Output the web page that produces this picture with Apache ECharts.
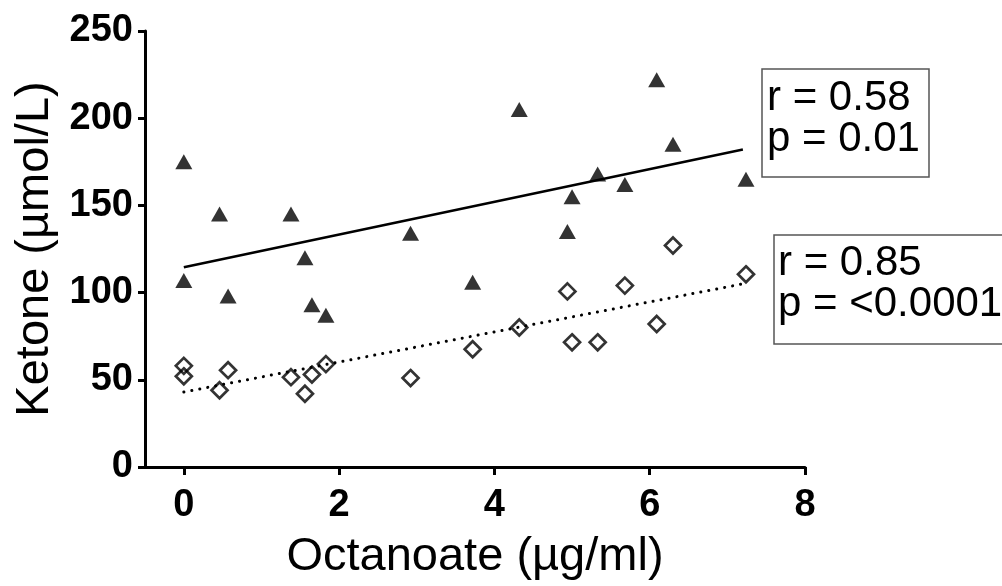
<!DOCTYPE html>
<html>
<head>
<meta charset="utf-8">
<script src="https://cdn.jsdelivr.net/npm/echarts@6/dist/echarts.min.js"></script>
<style>
  html, body { margin: 0; padding: 0; background: #fff; }
  #chart { width: 1002px; height: 586px; }
</style>
</head>
<body>
<div id="chart"></div>
<script>
// octanoate (µg/ml) per sample, same x for both groups
const octanoate = [0, 0, 0.46, 0.57, 1.38, 1.56, 1.65, 1.83, 2.92, 3.72, 4.32, 4.94, 5.0, 5.33, 5.68, 6.09, 6.30, 7.24];
// filled triangles
const ketoneA = [175, 107, 145, 98, 145, 120, 93, 87, 134, 106, 205, 135, 155, 168, 162, 222, 185, 165];
// open diamonds
const ketoneB = [58, 52, 44, 55.5, 51.5, 42, 53, 59, 51, 67.5, 80, 100.7, 71.5, 71.5, 104, 82, 127, 110.5];
// fitted lines, end points
const fitA = [[0, 114.5], [7.2, 182]];
const fitB = [[0, 43], [7.2, 105]];
const xTicks = [0, 2, 4, 6, 8];
const statsA = 'r = 0.58\np = 0.01';
const statsB = 'r = 0.85\np = <0.0001';

const FONT = '"Liberation Sans", Arial, sans-serif';
const pairs = (xs, ys) => xs.map((x, i) => [x, ys[i]]);

const chart = echarts.init(document.getElementById('chart'));
chart.setOption({
  animation: false,
  grid: { left: 145, right: 197, top: 31, bottom: 118 },
  xAxis: {
    type: 'value', min: -0.5, max: 8,
    name: 'Octanoate (µg/ml)', nameLocation: 'middle', nameGap: 67,
    nameTextStyle: { fontFamily: FONT, fontSize: 47, color: '#000' },
    axisLine: { show: true, onZero: false, lineStyle: { color: '#000', width: 3 } },
    axisTick: { show: true, length: 8, lineStyle: { color: '#000', width: 3 }, customValues: xTicks },
    axisLabel: { customValues: xTicks, margin: 20, fontFamily: FONT, fontSize: 38, fontWeight: 'bold', color: '#000', lineHeight: 38 },
    splitLine: { show: false }
  },
  yAxis: {
    type: 'value', min: 0, max: 250, interval: 50,
    name: 'Ketone (µmol/L)', nameLocation: 'middle', nameGap: 82,
    nameTextStyle: { fontFamily: FONT, fontSize: 47, color: '#000' },
    axisLine: { show: true, onZero: false, lineStyle: { color: '#000', width: 3 } },
    axisTick: { show: true, length: 7, lineStyle: { color: '#000', width: 3 } },
    axisLabel: { margin: 12, fontFamily: FONT, fontSize: 38, fontWeight: 'bold', color: '#000' },
    splitLine: { show: false }
  },
  series: [
    { type: 'scatter', data: pairs(octanoate, ketoneA), symbol: 'triangle', symbolSize: [17, 15],
      itemStyle: { color: '#000' }, z: 2 },
    { type: 'scatter', data: pairs(octanoate, ketoneB), symbol: 'diamond', symbolSize: [16, 16],
      itemStyle: { color: 'rgba(0,0,0,0)', borderColor: '#000', borderWidth: 2.7 }, z: 2 },
    { type: 'line', data: fitA, symbol: 'none', lineStyle: { color: '#000', width: 2.5 }, z: 3 },
    { type: 'line', data: fitB, symbol: 'none',
      lineStyle: { color: '#000', width: 3, type: [0.1, 8], cap: 'round' }, z: 3 }
  ],
  graphic: [
    { type: 'rect', shape: { x: 762, y: 69, width: 167, height: 108 },
      style: { fill: 'none', stroke: '#555', lineWidth: 1.5 } },
    { type: 'text', x: 767, y: 78,
      style: { text: statsA, fontFamily: FONT, fontSize: 42, lineHeight: 41, fill: '#000', verticalAlign: 'top' } },
    { type: 'rect', shape: { x: 774, y: 235, width: 260, height: 109 },
      style: { fill: 'none', stroke: '#555', lineWidth: 1.5 } },
    { type: 'text', x: 778, y: 243,
      style: { text: statsB, fontFamily: FONT, fontSize: 42, lineHeight: 41, fill: '#000', verticalAlign: 'top' } }
  ]
});
</script>
</body>
</html>
